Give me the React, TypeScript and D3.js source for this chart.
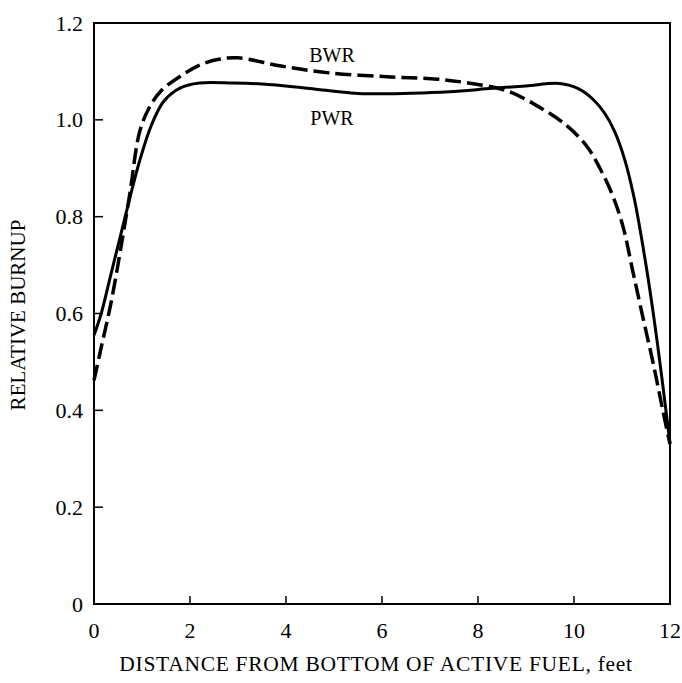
import React from "react";
import * as d3 from "d3";

const pwrX = [0, 0.15, 0.35, 0.55, 0.75, 0.95, 1.2, 1.45, 1.8, 2.2, 2.9, 3.5, 4.2, 4.9, 5.6, 6.6, 7.4, 8.3, 9.0, 9.7, 10.1, 10.4, 10.65, 10.85, 11.05, 11.25, 11.5, 11.73, 12];
const pwrY = [0.555, 0.6, 0.68, 0.76, 0.84, 0.915, 0.99, 1.038, 1.066, 1.076, 1.076, 1.074, 1.068, 1.06, 1.054, 1.055, 1.058, 1.065, 1.07, 1.075, 1.064, 1.042, 1.012, 0.975, 0.92, 0.84, 0.7, 0.544, 0.332];

const bwrX = [0, 0.15, 0.35, 0.55, 0.75, 0.95, 1.15, 1.4, 1.8, 2.2, 2.6, 3.0, 3.9, 4.9, 6.1, 7.15, 7.8, 8.6, 9.3, 9.85, 10.27, 10.54, 10.8, 11.02, 11.23, 11.44, 11.65, 11.85, 12];
const bwrY = [0.462, 0.53, 0.62, 0.73, 0.85, 0.975, 1.025, 1.06, 1.09, 1.113, 1.125, 1.128, 1.111, 1.097, 1.089, 1.084, 1.076, 1.06, 1.025, 0.988, 0.945, 0.9, 0.845, 0.78, 0.685, 0.59, 0.497, 0.4, 0.33];

const xTicks = [0, 2, 4, 6, 8, 10, 12];
const yTicks = [0, 0.2, 0.4, 0.6, 0.8, 1.0, 1.2];
const yTickLabels = ["0", "0.2", "0.4", "0.6", "0.8", "1.0", "1.2"];

const xTitle = "DISTANCE FROM BOTTOM OF ACTIVE FUEL, feet";
const yTitle = "RELATIVE BURNUP";

export default function App() {
  const W = 682, H = 683;
  const left = 94, right = 670, top = 23, bottom = 604;
  const x = d3.scaleLinear().domain([0, 12]).range([left, right]);
  const y = d3.scaleLinear().domain([0, 1.2]).range([bottom, top]);
  const line = d3.line<[number, number]>()
    .x((d) => x(d[0]))
    .y((d) => y(d[1]))
    .curve(d3.curveCatmullRom.alpha(0.5));
  const pwr = pwrX.map((v, i) => [v, pwrY[i]] as [number, number]);
  const bwr = bwrX.map((v, i) => [v, bwrY[i]] as [number, number]);
  const font = "'Liberation Serif', 'Times New Roman', serif";
  return (
    <svg width={W} height={H} style={{ position: "absolute", left: 0, top: 0, background: "#fff" }} fontFamily={font}>
      <rect x={0} y={0} width={W} height={H} fill="#fff" />
      <rect x={left} y={top} width={right - left} height={bottom - top} fill="none" stroke="#000" strokeWidth={2} />
      {xTicks.filter((t) => t > 0 && t < 12).map((t) => (
        <line key={"xt" + t} x1={x(t)} x2={x(t)} y1={bottom} y2={bottom - 8} stroke="#000" strokeWidth={1.5} />
      ))}
      {yTicks.filter((t) => t > 0 && t < 1.2).map((t) => (
        <line key={"yt" + t} x1={left} x2={left + 9} y1={y(t)} y2={y(t)} stroke="#000" strokeWidth={1.5} />
      ))}
      {xTicks.map((t) => (
        <text key={"xl" + t} x={x(t)} y={638} textAnchor="middle" fontSize={22} fill="#000">{t}</text>
      ))}
      {yTicks.map((t, i) => (
        <text key={"yl" + t} x={83} y={y(t) + 7.5} textAnchor="end" fontSize={22} fill="#000">{yTickLabels[i]}</text>
      ))}
      <text x={376} y={671} textAnchor="middle" fontSize={21.5} letterSpacing={0.7} fill="#000">{xTitle}</text>
      <text transform={`translate(25,315) rotate(-90)`} textAnchor="middle" fontSize={21} fill="#000">{yTitle}</text>
      <path d={line(bwr) || ""} fill="none" stroke="#000" strokeWidth={3.5} strokeDasharray="16,6" />
      <path d={line(pwr) || ""} fill="none" stroke="#000" strokeWidth={3} />
      <text x={332} y={62} textAnchor="middle" fontSize={20} fill="#000">BWR</text>
      <text x={332} y={125} textAnchor="middle" fontSize={20} fill="#000">PWR</text>
    </svg>
  );
}
